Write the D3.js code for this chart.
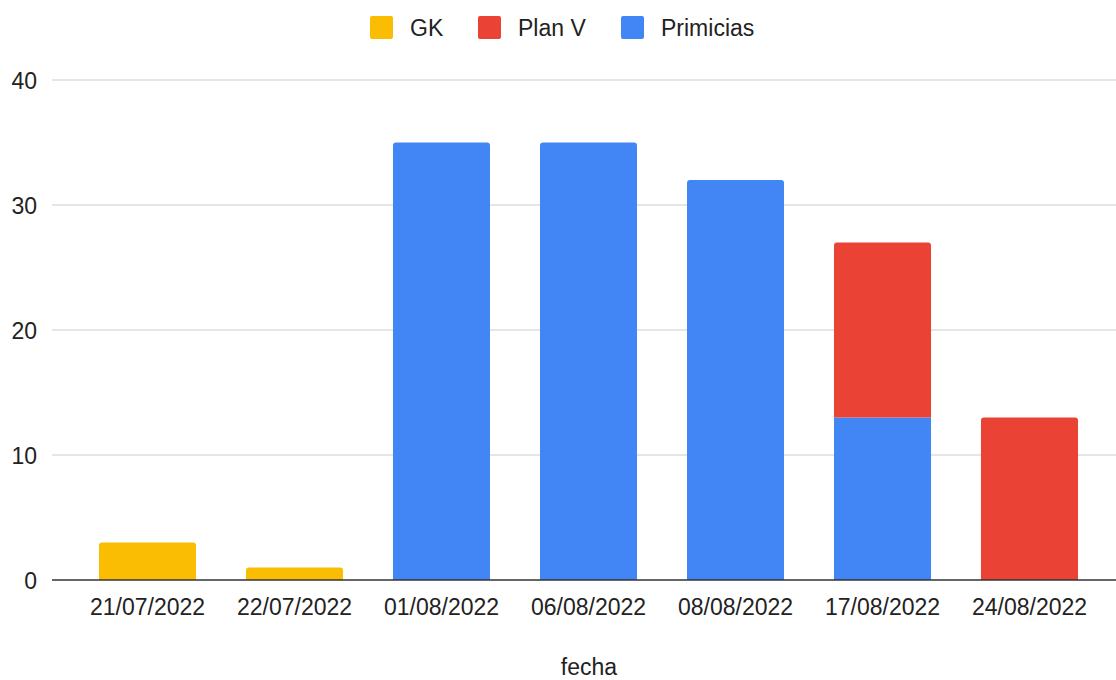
<!DOCTYPE html>
<html>
<head>
<meta charset="utf-8">
<script src="https://cdn.jsdelivr.net/npm/d3@7"></script>
<style>
  body { margin: 0; background: #fff; overflow: hidden; }
  svg { display: block; }
  text { font-family: "Liberation Sans", Arial, sans-serif; fill: #222; }
</style>
</head>
<body>
<svg id="chart"></svg>
<script>
const fechas = ['21/07/2022', '22/07/2022', '01/08/2022', '06/08/2022', '08/08/2022', '17/08/2022', '24/08/2022'];
const gk = [3, 1, 0, 0, 0, 0, 0];
const planV = [0, 0, 0, 0, 0, 14, 13];
const primicias = [0, 0, 35, 35, 32, 13, 0];
const yTicks = [0, 10, 20, 30, 40];

const seriesNames = ['GK', 'Plan V', 'Primicias'];
const colors = { 'GK': '#fbbc04', 'Plan V': '#ea4335', 'Primicias': '#4285f4' };

const width = 1116, height = 680;
const svg = d3.select('#chart').attr('width', width).attr('height', height);

const rows = fechas.map((f, i) => ({ fecha: f, 'GK': gk[i], 'Plan V': planV[i], 'Primicias': primicias[i] }));

// bottom of the stack is Primicias, then Plan V, then GK
const stack = d3.stack().keys(['Primicias', 'Plan V', 'GK']);
const stacked = stack(rows);

const x = d3.scaleBand().domain(fechas).range([74, 1103]).paddingInner(0.34).paddingOuter(0.17);
const y = d3.scaleLinear().domain([0, 40]).range([580, 80]);

// gridlines
svg.append('g')
  .selectAll('line')
  .data(yTicks.filter(d => d !== 0))
  .join('line')
  .attr('x1', 52).attr('x2', width)
  .attr('y1', d => y(d)).attr('y2', d => y(d))
  .attr('stroke', '#cccccc').attr('stroke-width', 1);

// y labels
svg.append('g')
  .selectAll('text')
  .data(yTicks)
  .join('text')
  .attr('x', 37)
  .attr('y', d => y(d) + 9)
  .attr('text-anchor', 'end')
  .attr('font-size', '23px')
  .text(d => d);

// top of each column gets rounded corners
const topKey = rows.map(r => {
  let k = null;
  ['Primicias', 'Plan V', 'GK'].forEach(s => { if (r[s] > 0) k = s; });
  return k;
});

function barPath(x0, y0, w, h, r) {
  return `M${x0},${y0 + h}V${y0 + r}Q${x0},${y0} ${x0 + r},${y0}H${x0 + w - r}Q${x0 + w},${y0} ${x0 + w},${y0 + r}V${y0 + h}Z`;
}

stacked.forEach(layer => {
  svg.append('g')
    .selectAll('path')
    .data(layer.map((d, i) => ({ d, i })).filter(o => o.d[1] - o.d[0] > 0))
    .join('path')
    .attr('fill', colors[layer.key])
    .attr('d', o => {
      const x0 = x(fechas[o.i]);
      const y0 = y(o.d[1]);
      const h = y(o.d[0]) - y(o.d[1]);
      const r = topKey[o.i] === layer.key ? 3 : 0;
      return barPath(x0, y0, x.bandwidth(), h, r);
    });
});

// baseline
svg.append('line')
  .attr('x1', 52).attr('x2', width)
  .attr('y1', y(0)).attr('y2', y(0))
  .attr('stroke', '#333333').attr('stroke-width', 1.5);

// x labels
svg.append('g')
  .selectAll('text')
  .data(fechas)
  .join('text')
  .attr('x', d => x(d) + x.bandwidth() / 2)
  .attr('y', 615)
  .attr('text-anchor', 'middle')
  .attr('font-size', '23px')
  .text(d => d);

// axis title
svg.append('text')
  .attr('x', 589).attr('y', 675)
  .attr('text-anchor', 'middle')
  .attr('font-size', '23px')
  .text('fecha');

// legend
const legendX = [370, 478, 621];
const legend = svg.append('g')
  .selectAll('g')
  .data(seriesNames)
  .join('g')
  .attr('transform', (d, i) => `translate(${legendX[i]},16)`);

legend.append('rect')
  .attr('width', 23).attr('height', 23).attr('rx', 2)
  .attr('fill', d => colors[d]);

legend.append('text')
  .attr('x', 40).attr('y', 20)
  .attr('font-size', '23px')
  .text(d => d);
</script>
</body>
</html>
